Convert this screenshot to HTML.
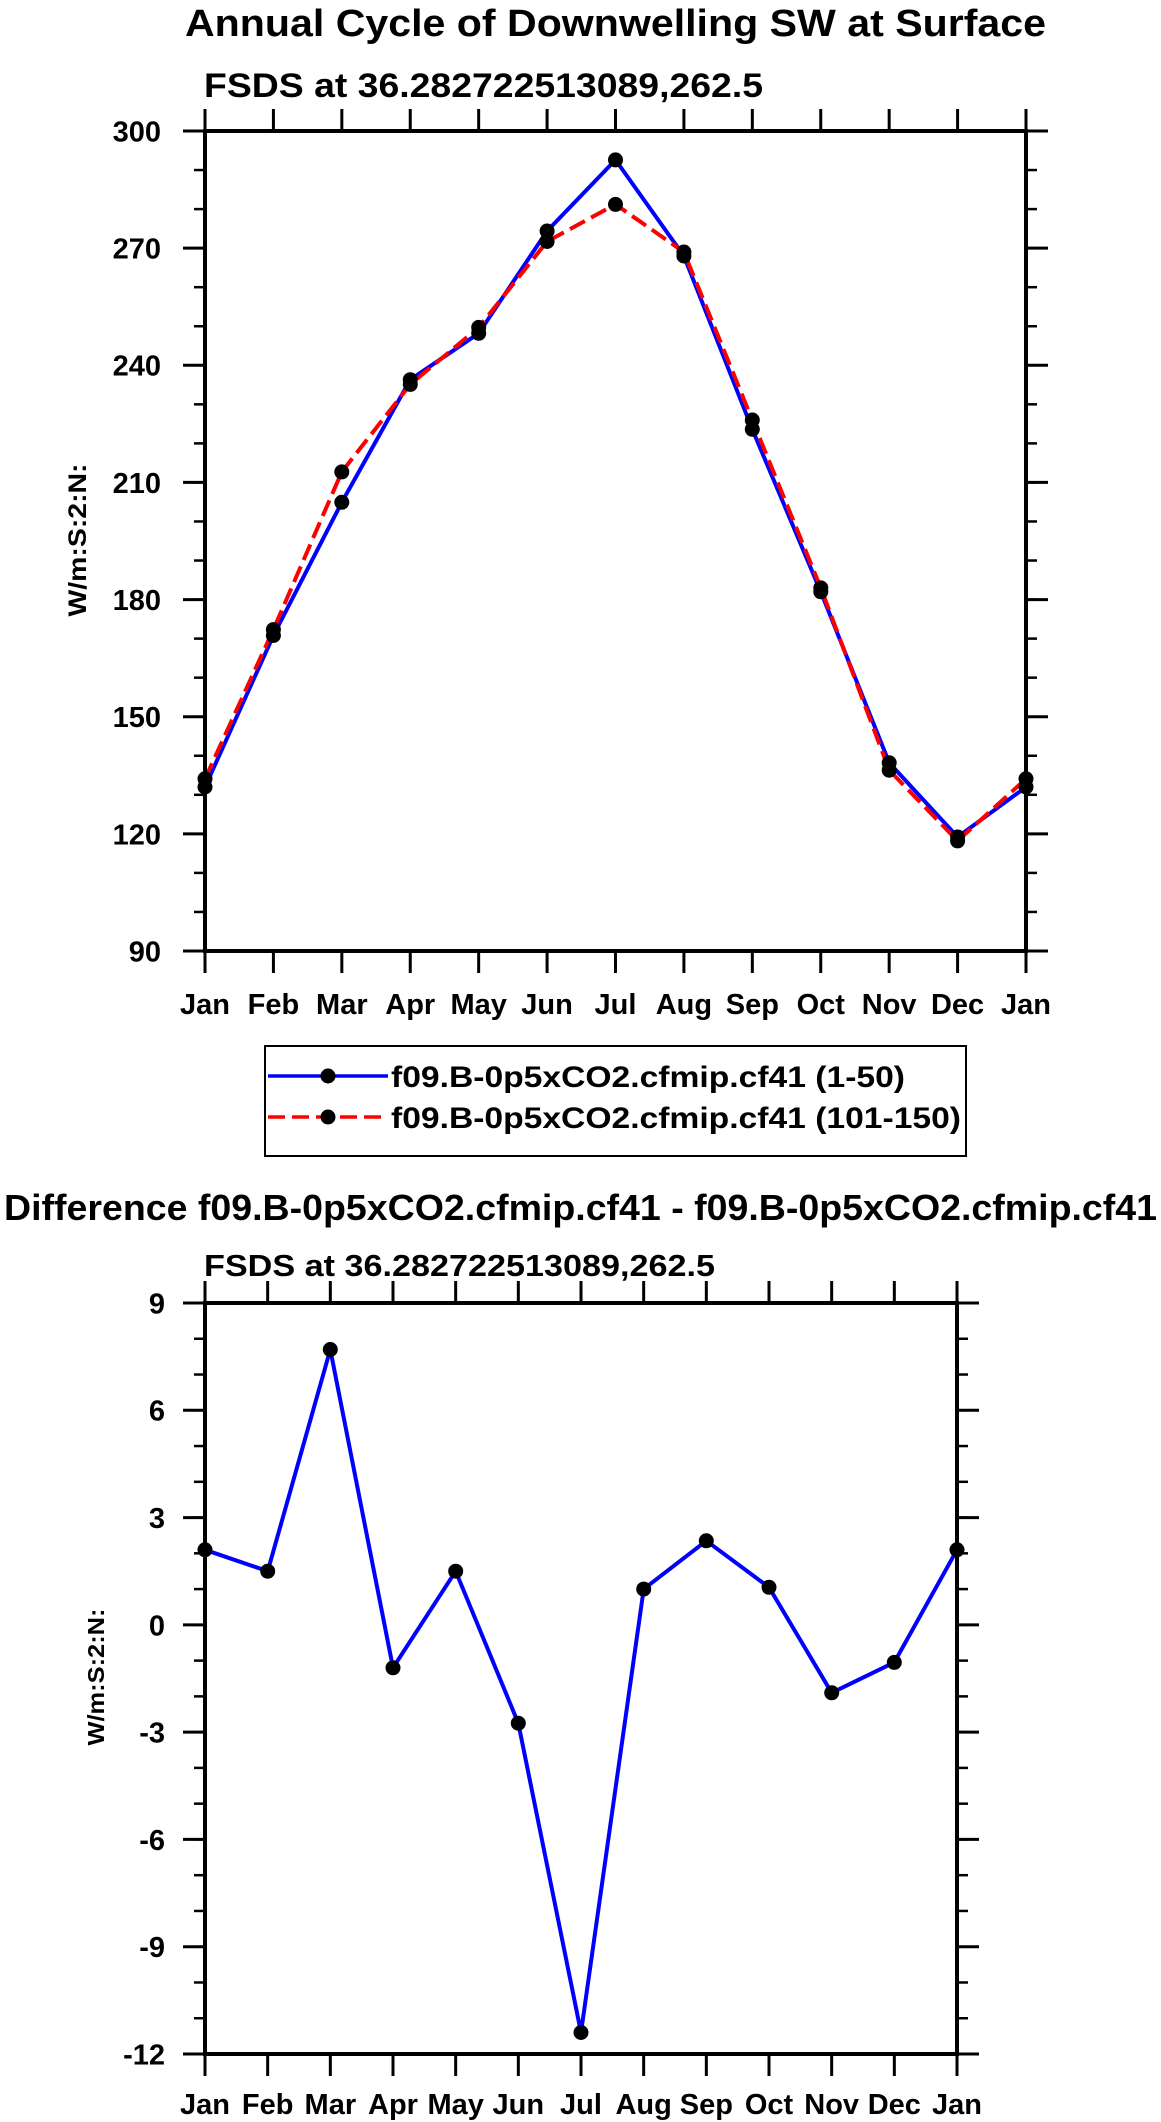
<!DOCTYPE html>
<html><head><meta charset="utf-8">
<style>
html,body{margin:0;padding:0;background:#fff;}
svg{display:block;font-family:"Liberation Sans",Arial,sans-serif;font-weight:bold;}
</style></head>
<body>
<svg id="chart" width="1161" height="2122" viewBox="0 0 1161 2122" xmlns="http://www.w3.org/2000/svg">
<text x="185" y="36" font-size="38" textLength="861" lengthAdjust="spacingAndGlyphs">Annual Cycle of Downwelling SW at Surface</text>
<text x="204" y="97" font-size="34" textLength="559" lengthAdjust="spacingAndGlyphs">FSDS at 36.282722513089,262.5</text>
<text transform="translate(86,540) rotate(-90)" text-anchor="middle" font-size="25" textLength="153" lengthAdjust="spacingAndGlyphs">W/m:S:2:N:</text>
<g id="top"></g>
<g>
<rect x="265" y="1046" width="701" height="110" fill="none" stroke="#000" stroke-width="2"/>
<g>
<line x1="268" y1="1076" x2="388" y2="1076" stroke="#0000ff" stroke-width="3.5"/>
<circle cx="328" cy="1076" r="7.5" fill="#000"/>
<text x="391" y="1087" font-size="30" textLength="514" lengthAdjust="spacingAndGlyphs">f09.B-0p5xCO2.cfmip.cf41 (1-50)</text>
</g>
<g>
<line x1="268" y1="1117" x2="388" y2="1117" stroke="#ff0000" stroke-width="3.5" stroke-dasharray="17,7"/>
<circle cx="328" cy="1117" r="7.5" fill="#000"/>
<text x="391" y="1128" font-size="30" textLength="570" lengthAdjust="spacingAndGlyphs">f09.B-0p5xCO2.cfmip.cf41 (101-150)</text>
</g>
</g>
<text x="4" y="1220" font-size="36" textLength="1153" lengthAdjust="spacingAndGlyphs">Difference f09.B-0p5xCO2.cfmip.cf41 - f09.B-0p5xCO2.cfmip.cf41</text>
<text x="204" y="1276" font-size="31" textLength="511" lengthAdjust="spacingAndGlyphs">FSDS at 36.282722513089,262.5</text>
<text transform="translate(104,1677) rotate(-90)" text-anchor="middle" font-size="23" textLength="137" lengthAdjust="spacingAndGlyphs">W/m:S:2:N:</text>
<g id="bot"></g>
</svg>
<script>
const months = ["Jan","Feb","Mar","Apr","May","Jun","Jul","Aug","Sep","Oct","Nov","Dec","Jan"];
const run1 = [132, 170.8, 204.9, 236.3, 248.2, 274.4, 292.6, 268, 223.6, 182, 138.2, 119.2, 132];
const run2 = [134.1, 172.3, 212.7, 235.1, 249.7, 271.7, 281.2, 269, 226, 183, 136.3, 118.2, 134.1];
const diffVals = [2.1, 1.5, 7.7, -1.2, 1.5, -2.75, -11.4, 1.0, 2.35, 1.05, -1.9, -1.05, 2.1];
const topTicks = [90,120,150,180,210,240,270,300];
const botTicks = [-12,-9,-6,-3,0,3,6,9];

const NS = "http://www.w3.org/2000/svg";
function mk(parent, tag, attrs, text){
  const e = document.createElementNS(NS, tag);
  for (const k in attrs) e.setAttribute(k, attrs[k]);
  if (text !== undefined) e.textContent = text;
  parent.appendChild(e);
  return e;
}
function drawPlot(g, box, yMin, yMax, yTicks, minorStep, series, labelFont, xLabelY, yLabelRight, prefix){
  const xs = i => box.l + (box.r - box.l) * i / (months.length - 1);
  const ys = v => box.b - (box.b - box.t) * (v - yMin) / (yMax - yMin);
  series.forEach(s => {
    let d = "";
    s.vals.forEach((v,i) => { d += (i ? "L" : "M") + xs(i).toFixed(1) + "," + ys(v).toFixed(1); });
    const p = mk(g, "path", {d: d, fill: "none", stroke: s.color, "stroke-width": 4, "stroke-linejoin": "round"});
    if (s.dash) p.setAttribute("stroke-dasharray", s.dash);
    
    
  });
  series.forEach(s => {
    s.vals.forEach((v,i) => {
      const c = mk(g, "circle", {cx: xs(i).toFixed(1), cy: ys(v).toFixed(1), r: 7.5, fill: "#000"});
      
      
    });
  });
  const fr = mk(g, "rect", {x: box.l, y: box.t, width: box.r - box.l, height: box.b - box.t, fill: "none", stroke: "#000", "stroke-width": 4});
  
  
  months.forEach((m,i) => {
    const x = xs(i);
    mk(g, "line", {x1: x, y1: box.b, x2: x, y2: box.b + 22, stroke: "#000", "stroke-width": 3});
    mk(g, "line", {x1: x, y1: box.t, x2: x, y2: box.t - 22, stroke: "#000", "stroke-width": 3});
    const t = mk(g, "text", {x: x, y: xLabelY, "text-anchor": "middle", "font-size": labelFont}, m);
    
    
  });
  for (let v = yMin; v <= yMax + 1e-9; v += minorStep) {
    const y = ys(v);
    mk(g, "line", {x1: box.l, y1: y, x2: box.l - 11, y2: y, stroke: "#000", "stroke-width": 2.5});
    mk(g, "line", {x1: box.r, y1: y, x2: box.r + 11, y2: y, stroke: "#000", "stroke-width": 2.5});
  }
  yTicks.forEach(v => {
    const y = ys(v);
    mk(g, "line", {x1: box.l, y1: y, x2: box.l - 22, y2: y, stroke: "#000", "stroke-width": 3});
    mk(g, "line", {x1: box.r, y1: y, x2: box.r + 22, y2: y, stroke: "#000", "stroke-width": 3});
    const t = mk(g, "text", {x: yLabelRight, y: y + labelFont * 0.36, "text-anchor": "end", "font-size": labelFont}, String(v));
    
    
  });
}
drawPlot(document.getElementById("top"), {l:205, r:1026, t:131, b:951}, 90, 300, topTicks, 10,
  [{name:"run-1-50", vals: run1, color:"#0000ff"},{name:"run-101-150", vals: run2, color:"#ff0000", dash:"17,7"}],
  29, 1014, 161, "top");
drawPlot(document.getElementById("bot"), {l:205, r:957, t:1303, b:2054}, -12, 9, botTicks, 1,
  [{name:"difference", vals: diffVals, color:"#0000ff"}],
  29, 2114, 165, "diff");
</script>
</body></html>
